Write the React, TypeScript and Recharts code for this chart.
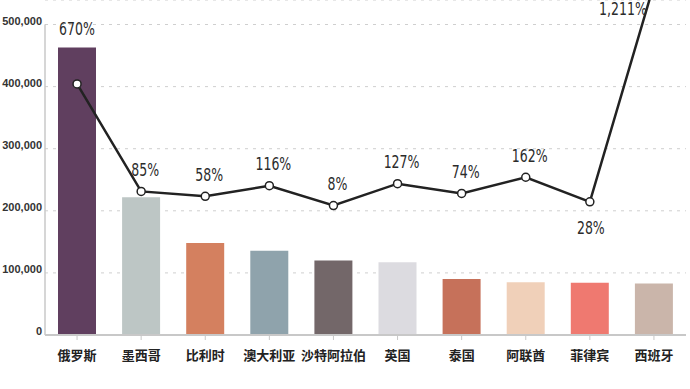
import {
  ComposedChart,
  Bar,
  Line,
  XAxis,
  YAxis,
  CartesianGrid,
  Cell,
  LabelList,
  ReferenceLine,
} from 'recharts'

const countries = ['俄罗斯', '墨西哥', '比利时', '澳大利亚', '沙特阿拉伯', '英国', '泰国', '阿联酋', '菲律宾', '西班牙']
const visitors = [463000, 222000, 148000, 135500, 120000, 117000, 90000, 85000, 84000, 83000]
const growth = [670, 85, 58, 116, 8, 127, 74, 162, 28, 1211]
const barColors = ['#603f5f', '#bdc6c5', '#d4805f', '#8fa3ac', '#736769', '#dcdbe0', '#c6715a', '#f0d0b9', '#ef7970', '#cab5aa']
const yTicks = [0, 100000, 200000, 300000, 400000, 500000]

const NUM_FONT = "'DejaVu Sans Condensed', 'Liberation Sans', sans-serif"
const CJK_FONT = "'Noto Sans CJK SC', sans-serif"

const data = countries.map((name, i) => ({ name, visitors: visitors[i], growth: growth[i] }))

function LeftTick({ x, y, payload }: any) {
  return (
    <text
      x={x}
      y={y - 4}
      textAnchor="end"
      dominantBaseline="central"
      fontFamily="'Liberation Sans', sans-serif"
      fontWeight={700}
      fontSize={11}
      fill="#333"
    >
      {Number(payload.value).toLocaleString('en-US')}
    </text>
  )
}

// condensed look: squeeze the text horizontally around its centre
function pctText(x: number, y: number, v: number) {
  return (
    <text
      transform={`translate(${x},${y}) scale(0.82,1)`}
      textAnchor="middle"
      dominantBaseline="central"
      fontFamily={NUM_FONT}
      fontSize={17}
      fontWeight={500}
      fill="#2b2b2b"
    >
      {v.toLocaleString('en-US')}%
    </text>
  )
}

// the first growth label sits above the bar, not the point
function BarGrowthLabel({ x, y, width, index }: any) {
  if (index !== 0) return null
  return pctText(x + width / 2, y - 18, growth[0])
}

function GrowthLabel({ x, y, index, value }: any) {
  if (index === 0) return null
  const name = countries[index]
  if (y < 0) return pctText(x - 31, 10, value) // line leaves the top
  if (name === '菲律宾') return pctText(x + 1, y + 27, value)
  return pctText(x + 4, y - 21, value)
}

export default function App() {
  return (
    <div style={{ position: 'absolute', left: 0, top: 0, background: '#fff' }}>
      <ComposedChart
        width={690}
        height={389}
        data={data}
        margin={{ top: 0, right: 4, bottom: 24, left: 0 }}
      >
        <CartesianGrid yAxisId="left" vertical={false} stroke="#cfcfcf" strokeDasharray="3 5" />
        <XAxis
          dataKey="name"
          interval={0}
          height={30}
          tickSize={5}
          tickMargin={11}
          axisLine={{ stroke: '#c8c8c8', strokeWidth: 2 }}
          tickLine={{ stroke: '#c8c8c8' }}
          tick={{ fontFamily: CJK_FONT, fontSize: 13, fontWeight: 700, fill: '#222' }}
        />
        <YAxis
          yAxisId="left"
          width={45}
          domain={[0, 539500]}
          ticks={yTicks}
          axisLine={false}
          tickLine={false}
          tickSize={0}
          tickMargin={3}
          tick={<LeftTick />}
        />
        <YAxis yAxisId="right" orientation="right" hide type="number" domain={[-697, 1127]} allowDataOverflow />
        <ReferenceLine
          yAxisId="left"
          position="start"
          segment={[{ x: '俄罗斯', y: 0 }, { x: '俄罗斯', y: 500000 }]}
          stroke="#c8c8c8"
          strokeWidth={1.5}
        />
        <Bar yAxisId="left" dataKey="visitors" barSize={38} isAnimationActive={false}>
          {data.map((d, i) => (
            <Cell key={d.name} fill={barColors[i]} />
          ))}
          <LabelList dataKey="visitors" content={<BarGrowthLabel />} />
        </Bar>
        <Line
          yAxisId="right"
          type="linear"
          dataKey="growth"
          stroke="#222"
          strokeWidth={2.5}
          dot={{ r: 4, fill: '#fff', stroke: '#222', strokeWidth: 1.5 }}
          activeDot={false}
          isAnimationActive={false}
        >
          <LabelList dataKey="growth" content={<GrowthLabel />} />
        </Line>
      </ComposedChart>
    </div>
  )
}
